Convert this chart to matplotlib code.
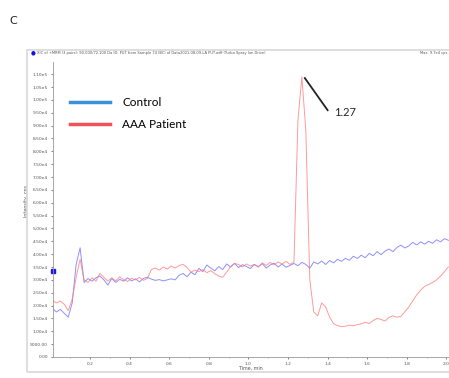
import numpy as np
import matplotlib.pyplot as plt
from matplotlib.lines import Line2D
from matplotlib.patches import Rectangle

# retention time grid (min), shared by both traces
time_min = [0.01, 0.03, 0.05, 0.07, 0.09, 0.11, 0.13, 0.15, 0.17, 0.19,
            0.21, 0.23, 0.25, 0.27, 0.29, 0.31, 0.33, 0.35, 0.37, 0.39,
            0.41, 0.43, 0.45, 0.47, 0.49, 0.51, 0.53, 0.55, 0.57, 0.59,
            0.61, 0.63, 0.65, 0.67, 0.69, 0.71, 0.73, 0.75, 0.77, 0.79,
            0.81, 0.83, 0.85, 0.87, 0.89, 0.91, 0.93, 0.95, 0.97, 0.99,
            1.01, 1.03, 1.05, 1.07, 1.09, 1.11, 1.13, 1.15, 1.17, 1.19,
            1.21, 1.23, 1.25, 1.27, 1.29, 1.31, 1.33, 1.35, 1.37, 1.39,
            1.41, 1.43, 1.45, 1.47, 1.49, 1.51, 1.53, 1.55, 1.57, 1.59,
            1.61, 1.63, 1.65, 1.67, 1.69, 1.71, 1.73, 1.75, 1.77, 1.79,
            1.81, 1.83, 1.85, 1.87, 1.89, 1.91, 1.93, 1.95, 1.97, 1.99,
            2.01]

# intensities in thousands of cps
control = [19.0, 17.5, 18.5, 17.0, 15.5, 21.0, 36.0, 42.5, 29.0, 30.5,
           29.5, 30.8, 31.5, 30.0, 28.0, 30.5, 29.0, 30.2, 29.5, 30.8,
           29.6, 30.4, 29.2, 30.6, 31.0, 30.3, 29.8, 30.1, 29.6, 30.0,
           30.4, 30.0, 31.8, 32.5, 31.2, 33.0, 32.0, 34.5, 33.2, 35.8,
           34.6, 33.5, 35.2, 34.0, 36.2, 35.0, 36.4, 34.8, 35.9, 35.2,
           34.4, 36.0, 35.1, 36.3, 34.6, 35.8, 36.5, 35.0, 36.2, 34.9,
           35.6, 36.4, 35.5, 36.8, 36.0, 34.5, 37.0, 36.2, 37.3, 36.0,
           37.5, 36.6, 38.0, 37.2, 38.4, 37.6, 39.2, 38.3, 39.6, 38.6,
           40.3, 39.4, 41.0, 39.8, 41.2, 42.0, 41.0, 42.6, 43.5, 42.4,
           43.2, 44.6, 43.6, 44.8, 43.9, 45.0, 44.2, 45.6, 44.8, 46.0,
           45.4]

patient = [22.0, 21.0, 21.8, 20.5, 18.0, 22.5, 31.0, 38.0, 30.0, 29.0,
           30.8, 29.5, 32.5, 31.0, 29.5, 30.8, 29.6, 31.2, 30.0, 29.4,
           30.6, 30.0, 31.0, 29.8, 30.6, 34.0, 34.6, 33.8, 35.0, 34.2,
           35.4, 34.6, 35.6, 36.0, 34.8, 33.0, 33.8, 33.2, 34.0, 32.8,
           33.6, 32.4, 31.5, 31.0, 33.0, 35.2, 36.4, 36.0, 35.0, 36.2,
           35.4, 36.0, 35.0, 36.6, 35.6, 36.8, 35.8, 37.0, 36.2, 37.2,
           36.0, 37.0, 92.0, 109.0, 88.0, 30.0, 17.5, 16.0, 21.0, 19.5,
           15.5, 13.0, 12.2, 11.8, 12.0, 12.4, 12.1, 12.6, 12.9, 13.5,
           13.0, 14.2, 15.0, 14.6, 14.0, 15.4, 16.0, 15.5, 15.8, 17.6,
           19.5, 21.8, 24.2, 26.0, 27.5, 28.2, 29.0, 30.0, 31.4, 33.2,
           35.0]

peak_time = 1.27
series_names = ['Control', 'AAA Patient']

t = np.array(time_min)
y_ctrl = np.array(control) * 1000
y_aaa = np.array(patient) * 1000

fig = plt.figure(figsize=(4.49, 3.78), dpi=100)
ax = fig.add_axes([0.118, 0.0556, 0.882, 0.780])

# instrument-style panel frame and header strip
fig.patches.append(Rectangle((0.060, 0.015), 0.95, 0.853, transform=fig.transFigure,
                             fill=False, edgecolor='#d8d8d8', lw=1.2))
fig.text(0.069, 0.860, '\u25cf', color='#1010e0', fontsize=4, va='center')
fig.text(0.082, 0.860,
         'XIC of +MRM (3 pairs): 90.000/72.100 Da ID: PUT from Sample 74 (BC) of '
         'Data2021-08-09-LA PUT.wiff (Turbo Spray Ion Drive)',
         fontsize=2.6, color='#555555', va='center')
fig.text(0.935, 0.860, 'Max. 9.7e4 cps.', fontsize=2.6, color='#555555', va='center')
fig.text(0.020, 0.945, 'C', fontsize=8, color='#222222', va='center')

ax.plot(t, y_ctrl, color='#6a6aff', lw=0.7, alpha=0.75)
ax.plot(t, y_aaa, color='#ff7878', lw=0.7, alpha=0.75)

ax.set_xlim(0.013, 2.013)
ax.set_ylim(0, 114700)
ax.set_xticks(np.arange(0.2, 2.01, 0.2))
ax.set_xticks(np.arange(0.1, 2.01, 0.1), minor=True)
ax.set_xticklabels(['%.1f' % v for v in np.arange(0.2, 2.01, 0.2)])
yt = np.arange(0, 110001, 5000)
ax.set_yticks(yt)
ylabels = []
for v in yt:
    if v == 0:
        ylabels.append('0.00')
    elif v < 10000:
        ylabels.append('%.2f' % v)
    else:
        ylabels.append('%.2fe%d' % (v / 10 ** int(np.log10(v)), int(np.log10(v))))
ax.set_yticklabels(ylabels)
ax.tick_params(labelsize=3.2, colors='#555555', length=1.5, width=0.5, pad=2)
ax.tick_params(which='minor', length=1.0, width=0.4, colors='#777777')
for s in ['top', 'right']:
    ax.spines[s].set_visible(False)
for s in ['left', 'bottom']:
    ax.spines[s].set_color('#999999')
    ax.spines[s].set_linewidth(0.6)
ax.set_xlabel('Time, min', fontsize=3.4, color='#555555', labelpad=0)
ax.set_ylabel('Intensity, cps', fontsize=3.4, color='#555555', labelpad=2)
ax.yaxis.set_label_coords(-0.06, 0.53)

# marker on the intensity axis
ax.plot([0.013], [33400], marker='s', ms=2.5, color='#1a1ae0', clip_on=False)

# retention-time callout for the patient peak
top = y_aaa[time_min.index(peak_time)]
ax.plot([peak_time + 0.015, peak_time + 0.13], [top - 500, top - 13000], color='#222222', lw=1.3)
ax.text(peak_time + 0.165, top - 13800, '%.2f' % peak_time, fontsize=8,
        color='#222222', va='center', ha='left', family='Lato')

handles = [Line2D([], [], color='#3d8fd8', lw=2.5),
           Line2D([], [], color='#f0525a', lw=2.5)]
fig.legend(handles, series_names, loc='upper left', bbox_to_anchor=(0.133, 0.772),
           frameon=False, handlelength=3.4, handletextpad=1.0,
           labelspacing=0.95, prop={'family': 'Lato', 'size': 8.5})

fig.savefig('out.png', dpi=100)
